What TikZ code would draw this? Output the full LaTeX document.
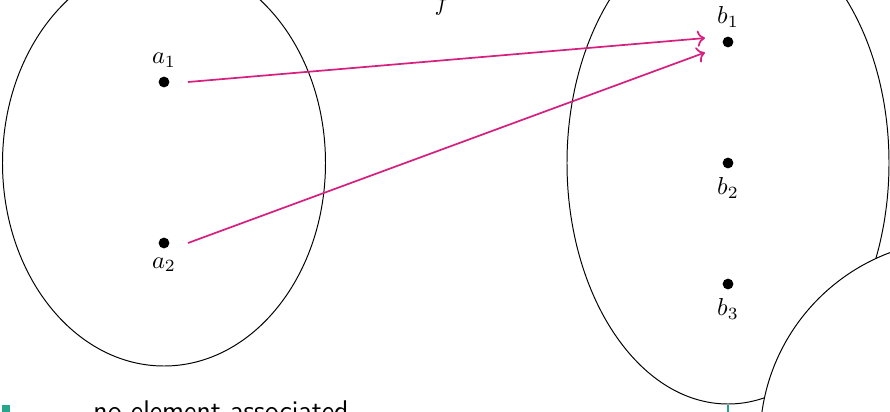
\documentclass[tikz,border=0pt]{standalone}
\usetikzlibrary{arrows.meta}
\definecolor{mapcol}{RGB}{214,32,128}
\definecolor{legcol}{RGB}{38,166,140}

\begin{document}
\begin{tikzpicture}[x=.408pt,y=-.408pt,dot/.style={circle,fill,inner sep=0pt,minimum size=4.4pt},maparrow/.style={mapcol,line width=.7pt,->}]
\path[use as bounding box,clip] (0,0) rectangle (890,412);
\draw (164,163) ellipse [x radius=161.5,y radius=203]; \draw (728,163) ellipse [x radius=161,y radius=241];
\draw[fill=white] (960,440) circle [radius=200];
\node[dot,label={above:$a_1$}] (a1) at (164,82) {}; \node[dot,label={below:$a_2$}] (a2) at (164,243) {};
\node[dot,label={above:$b_1$}] (b1) at (728,42) {}; \node[dot,label={below:$b_2$}] (b2) at (728,163) {}; \node[dot,label={below:$b_3$}] (b3) at (728,284) {};
\node[anchor=base] (f) at (442,10) {$f$};
\draw[maparrow] ([xshift=9.8pt]a1.center)--([xshift=-9.4pt,yshift=1.6pt]b1.center); \draw[maparrow] ([xshift=9.8pt]a2.center)--([xshift=-9.4pt,yshift=-4.3pt]b1.center);
\fill[legcol] (2,405) rectangle (10,420); \node[anchor=base west,inner sep=0pt,font=\sffamily\fontsize{11.6pt}{14pt}\selectfont] (note) at (93,420) {no element associated};
\draw[legcol,thick] (728,405)--(728,420);
\end{tikzpicture}
\end{document}
